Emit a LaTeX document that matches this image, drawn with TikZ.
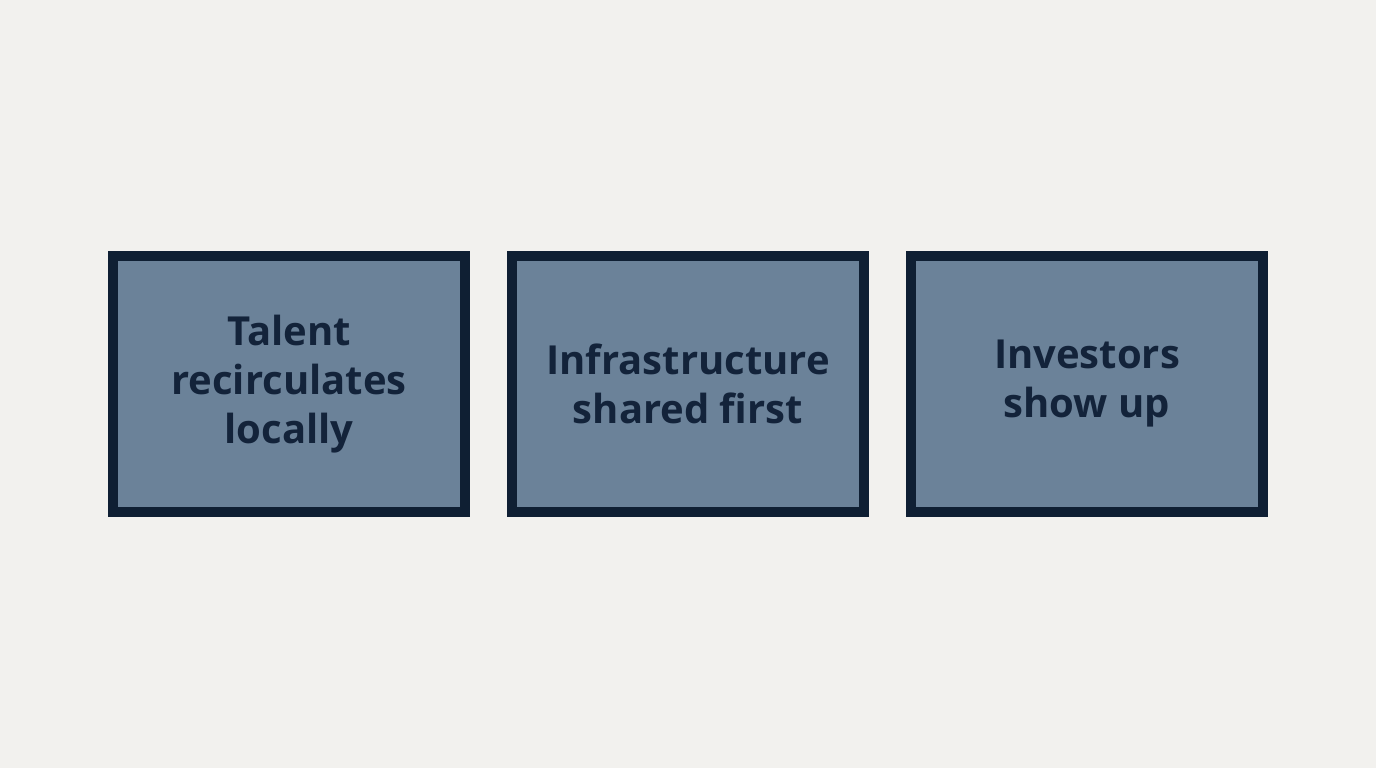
\documentclass[tikz,border=0pt]{standalone}
\usepackage{fontspec}
\setmainfont{Open Sans}
\definecolor{bg}{HTML}{F2F1EE}
\definecolor{boxfill}{HTML}{6B8299}
\definecolor{boxline}{HTML}{0F1F33}
\definecolor{txt}{HTML}{13233A}
\begin{document}
\begin{tikzpicture}[x=1pt,y=1pt,
  box/.style={draw=boxline,fill=boxfill,line width=10pt,minimum width=352pt,minimum height=256pt,inner sep=0pt,align=center,text=txt,font=\fontsize{40}{49}\selectfont\bfseries}]
\fill[bg] (0,0) rectangle (1376,768);
\useasboundingbox (0,0) rectangle (1376,768);
\node[box] (a) at (289,384) {Talent\\recirculates\\locally};
\node[box] (b) at (688,384) {Infrastructure\\shared first};
\node[box] (c) at (1087,384) {Investors\\show up};
\end{tikzpicture}
\end{document}
